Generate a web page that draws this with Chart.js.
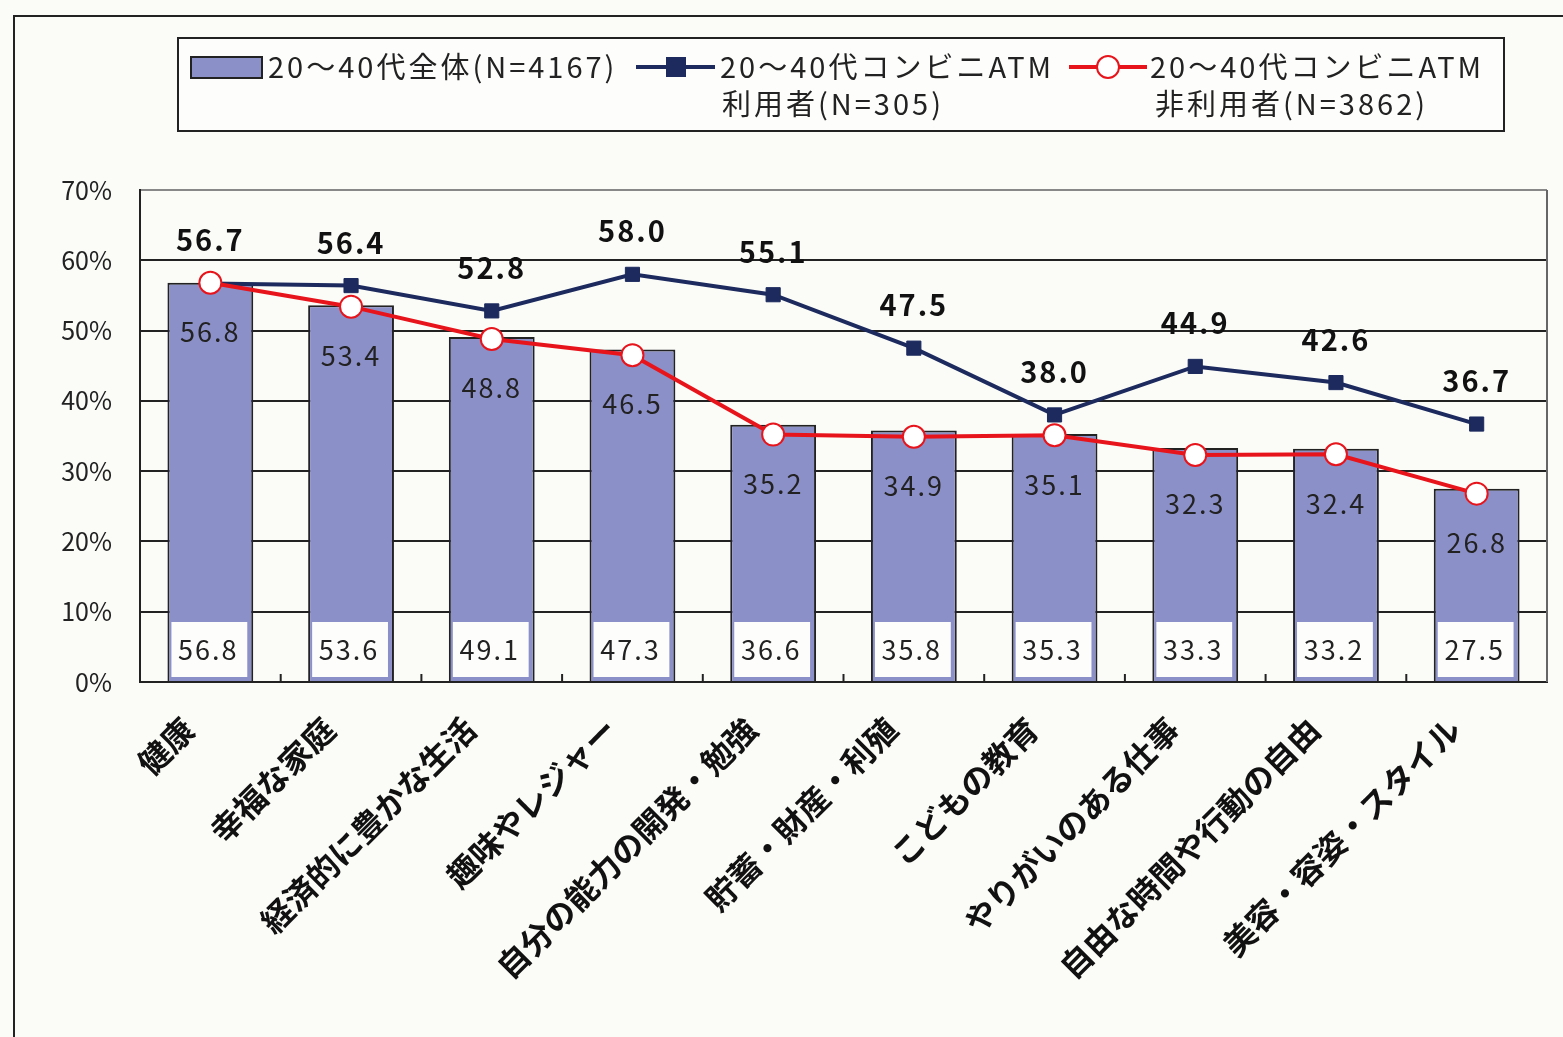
<!DOCTYPE html>
<html lang="ja">
<head>
  <meta charset="UTF-8" />
  <title>20～40代 大切にしていること</title>
  <script src="https://cdn.jsdelivr.net/npm/chart.js"></script>
  <style>
    html, body { margin: 0; padding: 0; background: #fbfcf8; }
    #wrap { width: 1563px; height: 1037px; }
  </style>
</head>
<body>
  <div id="wrap"><canvas id="chart" width="1563" height="1037"></canvas></div>

  <script>
    // data
    const categories = [
      "健康", "幸福な家庭", "経済的に豊かな生活", "趣味やレジャー", "自分の能力の開発・勉強",
      "貯蓄・財産・利殖", "こどもの教育", "やりがいのある仕事", "自由な時間や行動の自由", "美容・容姿・スタイル"
    ];
    const allValues     = [56.8, 53.6, 49.1, 47.3, 36.6, 35.8, 35.3, 33.3, 33.2, 27.5];
    const userValues    = [56.7, 56.4, 52.8, 58.0, 55.1, 47.5, 38.0, 44.9, 42.6, 36.7];
    const nonUserValues = [56.8, 53.4, 48.8, 46.5, 35.2, 34.9, 35.1, 32.3, 32.4, 26.8];
    const yTicks = [0, 10, 20, 30, 40, 50, 60, 70];

    const legendAll = ["20～40代全体(N=4167)"];
    const legendUser = ["20～40代コンビニATM", "利用者(N=305)"];
    const legendNonUser = ["20～40代コンビニATM", "非利用者(N=3862)"];

    const FONT = "'Noto Sans CJK JP', 'Noto Sans', sans-serif";
    const barColor = "#8c90c8";
    const navy = "#1c2a5e";
    const red = "#e8141c";

    // frame, plot borders, small ticks and legend box
    const decor = {
      id: "decor",
      beforeDraw(chart) {
        const ctx = chart.ctx;
        ctx.save();
        ctx.fillStyle = "#fbfcf8";
        ctx.fillRect(0, 0, chart.width, chart.height);
        ctx.strokeStyle = "#222";
        ctx.lineWidth = 2;
        ctx.beginPath();
        ctx.moveTo(14, chart.height);
        ctx.lineTo(14, 16);
        ctx.lineTo(chart.width, 16);
        ctx.stroke();
        ctx.restore();
      },
      afterDatasetsDraw(chart) {
        const ctx = chart.ctx;
        const a = chart.chartArea;
        const x = chart.scales.x;
        ctx.save();
        ctx.strokeStyle = "#666";
        ctx.lineWidth = 2;
        ctx.beginPath();
        ctx.moveTo(a.right, a.top);
        ctx.lineTo(a.right, a.bottom);
        ctx.stroke();
        ctx.strokeStyle = "#222";
        const step = x.getPixelForValue(1) - x.getPixelForValue(0);
        for (let i = 0; i < categories.length - 1; i++) {
          const px = x.getPixelForValue(i) + step / 2;
          ctx.beginPath();
          ctx.moveTo(px, a.bottom);
          ctx.lineTo(px, a.bottom - 8);
          ctx.stroke();
        }
        ctx.restore();
      },
      afterDraw(chart) {
        const ctx = chart.ctx;
        ctx.save();
        ctx.fillStyle = "#fdfefb";
        ctx.fillRect(178, 38, 1326, 93);
        ctx.strokeStyle = "#222";
        ctx.lineWidth = 2;
        ctx.strokeRect(178, 38, 1326, 93);

        ctx.fillStyle = barColor;
        ctx.fillRect(191, 57, 71, 21);
        ctx.strokeRect(191, 57, 71, 21);

        ctx.strokeStyle = navy;
        ctx.lineWidth = 4;
        ctx.beginPath(); ctx.moveTo(636, 67); ctx.lineTo(715, 67); ctx.stroke();
        ctx.fillStyle = navy;
        ctx.fillRect(666, 57, 20, 20);

        ctx.strokeStyle = red;
        ctx.beginPath(); ctx.moveTo(1069, 67); ctx.lineTo(1147, 67); ctx.stroke();
        ctx.fillStyle = "#fff";
        ctx.lineWidth = 2;
        ctx.beginPath(); ctx.arc(1108, 67, 11, 0, Math.PI * 2); ctx.fill(); ctx.stroke();

        ctx.fillStyle = "#222";
        ctx.font = "29px " + FONT;
        ctx.letterSpacing = "3px";
        ctx.textBaseline = "middle";
        ctx.textAlign = "left";
        ctx.fillText(legendAll[0], 268, 67);
        ctx.fillText(legendUser[0], 720, 67);
        ctx.fillText(legendUser[1], 722, 104);
        ctx.fillText(legendNonUser[0], 1150, 67);
        ctx.fillText(legendNonUser[1], 1155, 104);
        ctx.restore();
      }
    };

    // value labels
    const valueLabels = {
      id: "valueLabels",
      afterDatasetsDraw(chart) {
        const ctx = chart.ctx;
        const a = chart.chartArea;
        const bars = chart.getDatasetMeta(0).data;
        const users = chart.getDatasetMeta(1).data;
        const nonUsers = chart.getDatasetMeta(2).data;
        ctx.save();
        ctx.textAlign = "center";
        ctx.textBaseline = "middle";
        ctx.letterSpacing = "2px";

        bars.forEach((b, i) => {
          const left = b.x - b.width / 2;
          ctx.fillStyle = "#fdfefb";
          ctx.fillRect(left + 4, a.bottom - 60, b.width - 10, 55);
          ctx.fillStyle = "#222";
          ctx.font = "27px " + FONT;
          ctx.fillText(allValues[i].toFixed(1), b.x - 2, a.bottom - 32);
        });

        nonUsers.forEach((p, i) => {
          ctx.fillStyle = "#222";
          ctx.font = "27px " + FONT;
          ctx.fillText(nonUserValues[i].toFixed(1), p.x, p.y + 49);
        });

        users.forEach((p, i) => {
          ctx.fillStyle = "#111";
          ctx.font = "bold 29px " + FONT;
          ctx.fillText(userValues[i].toFixed(1), p.x, p.y - 43);
        });
        ctx.restore();
      }
    };

    new Chart(document.getElementById("chart"), {
      data: {
        labels: categories,
        datasets: [
          {
            type: "bar",
            label: legendAll.join(" "),
            data: allValues,
            backgroundColor: barColor,
            borderColor: "#222",
            borderWidth: 2,
            borderSkipped: "bottom",
            categoryPercentage: 0.61,
            barPercentage: 1,
            order: 3
          },
          {
            type: "line",
            label: legendUser.join(" "),
            data: userValues,
            borderColor: navy,
            borderWidth: 4,
            pointStyle: "rect",
            pointRadius: 10,
            pointBackgroundColor: navy,
            pointBorderColor: navy,
            pointBorderWidth: 1,
            order: 2
          },
          {
            type: "line",
            label: legendNonUser.join(" "),
            data: nonUserValues,
            borderColor: red,
            borderWidth: 4,
            pointStyle: "circle",
            pointRadius: 11,
            pointBackgroundColor: "#fff",
            pointBorderColor: red,
            pointBorderWidth: 2,
            order: 1
          }
        ]
      },
      options: {
        responsive: false,
        animation: false,
        layout: { padding: { top: 190, right: 16, left: 0, bottom: 0 } },
        plugins: { legend: { display: false }, tooltip: { enabled: false } },
        scales: {
          x: {
            afterFit: s => { s.height = 355; },
            grid: { display: false },
            border: { color: "#222", width: 2 },
            ticks: {
              color: "#111",
              font: { family: FONT, size: 32, weight: "bold" },
              minRotation: 45,
              maxRotation: 45,
              padding: 20,
              labelOffset: -22
            }
          },
          y: {
            min: 0,
            max: 70,
            afterFit: s => { s.width = 140; },
            afterBuildTicks: s => { s.ticks = yTicks.map(v => ({ value: v })); },
            border: { color: "#222", width: 2 },
            grid: {
              color: c => (c.tick && c.tick.value === 70 ? "#888" : "#222"),
              lineWidth: 2,
              tickLength: 0
            },
            ticks: {
              color: "#222",
              font: { family: FONT, size: 25 },
              padding: 28,
              callback: v => v + "%"
            }
          }
        }
      },
      plugins: [decor, valueLabels]
    });
  </script>
</body>
</html>
